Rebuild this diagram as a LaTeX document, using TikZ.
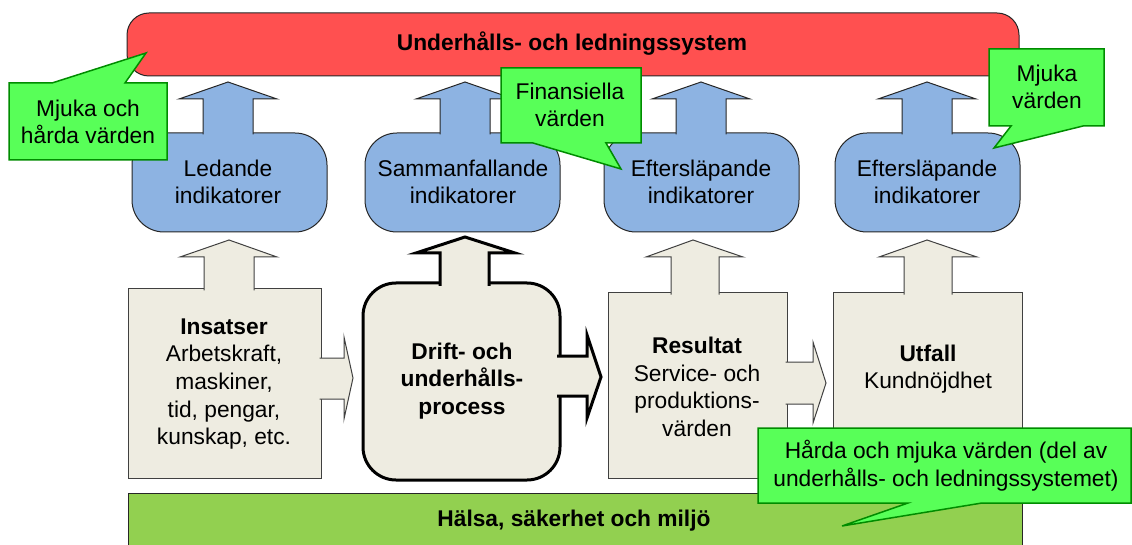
\documentclass[tikz,border=0pt]{standalone}
\usepackage{fontspec}
\setmainfont{Liberation Sans}
\definecolor{redbox}{RGB}{255,80,80}
\definecolor{greenbar}{RGB}{146,208,80}
\definecolor{bluebox}{RGB}{141,179,226}
\definecolor{beige}{RGB}{238,236,225}
\definecolor{callfill}{RGB}{88,255,88}
\definecolor{callline}{RGB}{0,140,0}
\begin{document}
\begin{tikzpicture}[x=1pt,y=-1pt,
  txt/.style={font=\fontsize{22.75}{27.7}\selectfont, align=center, inner sep=0pt},
  btxt/.style={font=\fontsize{22.75}{27.7}\selectfont\bfseries, align=center, inner sep=0pt},
  indbox/.style={fill=bluebox, draw=black!85, line width=1pt},
  stepbox/.style={fill=beige, draw=black!75, line width=1pt},
  procbox/.style={fill=beige, draw=black, line width=3pt},
  callout/.style={fill=callfill, draw=callline, line width=1.5pt},
  barbox/.style={draw=black!85, line width=1pt}]
\useasboundingbox (0,0) rectangle (1132,545);
\clip (0,0) rectangle (1132,545);
% top system bar
\draw[barbox, fill=redbox, rounded corners=22pt] (127,13) rectangle (1019,76);
% indicator shapes
\foreach \L/\R/\c in {132/327/228, 365/560/465, 604/799/701, 835/1020/927}{
  \draw[indbox, rounded corners=32pt] (\L,133) rectangle (\R,232);
  \filldraw[indbox] ({\c-25},134.5) -- ({\c-25},99) -- ({\c-49},99) -- (\c,82)
     -- ({\c+49},99) -- ({\c+25},99) -- ({\c+25},134.5);
}
% Insatser
\draw[stepbox] (128,289) rectangle (321,478);
\filldraw[stepbox] (204,290.5) -- (204,257) -- (180,257) -- (229,240) -- (277,257) -- (254,257) -- (254,290.5);
\filldraw[stepbox] (319.5,358) -- (344,358) -- (344,337) -- (353,378) -- (344,419) -- (344,399) -- (319.5,399);
% Drift process
\draw[procbox, rounded corners=33pt] (363,283) rectangle (560,480);
\filldraw[procbox] (440,286) -- (440,253) -- (416,253) -- (465,237) -- (515,253) -- (489,253) -- (489,286);
\filldraw[procbox] (557,356) -- (587,356) -- (587,335) -- (601,377) -- (587,418) -- (587,396) -- (557,396);
% Resultat
\draw[stepbox] (608,293) rectangle (787,478);
\filldraw[stepbox] (671,294.5) -- (671,257) -- (646,257) -- (693,240) -- (743,257) -- (719,257) -- (719,294.5);
\filldraw[stepbox] (785.5,362) -- (813,362) -- (813,342) -- (826,383) -- (813,423) -- (813,404) -- (785.5,404);
% Utfall
\draw[stepbox] (833,293) rectangle (1022,478);
\filldraw[stepbox] (904,294.5) -- (904,257) -- (879,257) -- (927,240) -- (977,257) -- (952,257) -- (952,294.5);
% bottom bar
\draw[barbox, fill=greenbar] (128,493) rectangle (1022,560);
% callouts
\draw[callout] (9,83) -- (52,83) -- (146,53) -- (125,83) -- (167,83) -- (167,160) -- (9,160) -- cycle;
\draw[callout] (501,68) -- (641,68) -- (641,143) -- (606,143) -- (621,169) -- (533,143) -- (501,143) -- cycle;
\draw[callout] (989,49) -- (1104,49) -- (1104,126) -- (1083,126) -- (994,148) -- (1011,126) -- (989,126) -- cycle;
\draw[callout] (758,428) -- (1131,428) -- (1131,503) -- (982,503) -- (842,526) -- (908,503) -- (758,503) -- cycle;
% texts
\node[btxt] (title) at (572,44) {Underhålls- och ledningssystem};
\node[btxt] (hse) at (574,521) {Hälsa, säkerhet och miljö};
\node[txt] (ind1) at (228,182) {Ledande\\indikatorer};
\node[txt] (ind2) at (463,182) {Sammanfallande\\indikatorer};
\node[txt] (ind3) at (701,182) {Eftersläpande\\indikatorer};
\node[txt] (ind4) at (927,182) {Eftersläpande\\indikatorer};
\node[txt] (insatser) at (224,384) {\textbf{Insatser}\\Arbetskraft,\\maskiner,\\tid, pengar,\\kunskap, etc.};
\node[btxt] (drift) at (462,381) {Drift- och\\underhålls-\\process};
\node[txt] (resultat) at (697,387) {\textbf{Resultat}\\Service- och\\produktions-\\värden};
\node[txt] (utfall) at (928,369) {\textbf{Utfall}\\Kundnöjdhet};
\node[txt] (call1) at (88,122) {Mjuka och\\hårda värden};
\node[txt] (call2) at (570,105) {Finansiella\\värden};
\node[txt] (call3) at (1047,87) {Mjuka\\värden};
\node[txt] (call4) at (946,466) {Hårda och mjuka värden (del av\\underhålls- och ledningssystemet)};
\end{tikzpicture}
\end{document}
